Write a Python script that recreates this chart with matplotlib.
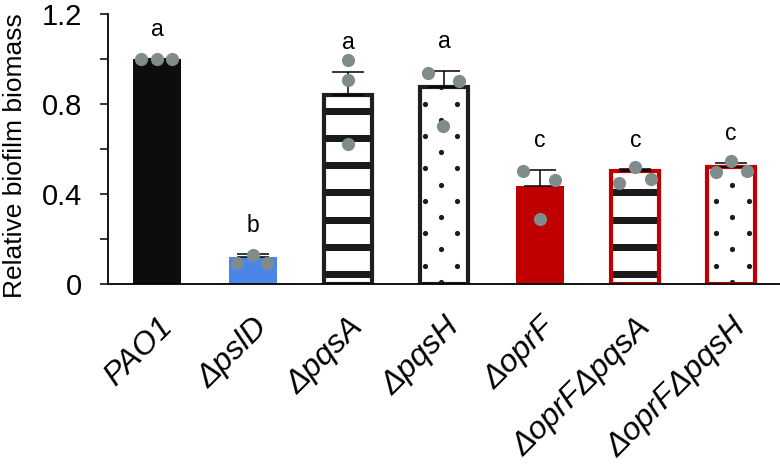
import numpy as np
import matplotlib
matplotlib.use("Agg")
import matplotlib.pyplot as plt
from matplotlib.transforms import ScaledTranslation
from matplotlib.collections import PatchCollection
from matplotlib.patches import Rectangle

plt.rcParams['font.family'] = ['Liberation Sans', 'DejaVu Sans']

# ---- data ----
strains = ["PAO1", "ΔpslD", "ΔpqsA", "ΔpqsH", "ΔoprF", "ΔoprFΔpqsA", "ΔoprFΔpqsH"]
means = [1.0, 0.121, 0.84, 0.874, 0.437, 0.502, 0.521]
errors = [0.0, 0.012, 0.104, 0.074, 0.070, 0.009, 0.018]
replicates = [
    [1.0, 1.0, 1.0],
    [0.095, 0.129, 0.095],
    [0.996, 0.907, 0.622],
    [0.936, 0.902, 0.702],
    [0.502, 0.462, 0.289],
    [0.450, 0.521, 0.467],
    [0.496, 0.547, 0.502],
]
letters = ["a", "b", "a", "a", "c", "c", "c"]
yticks = [0, 0.4, 0.8, 1.2]
ytick_labels = ["0", "0.4", "0.8", "1.2"]

# ---- styles ----
jitter = [
    [-0.17, 0.0, 0.16],
    [-0.16, 0.0, 0.15],
    [0.0, 0.0, 0.0],
    [-0.17, 0.16, -0.01],
    [-0.17, 0.16, 0.0],
    [-0.17, 0.0, 0.16],
    [-0.16, 0.0, 0.165],
]
face = ["#0d0d0d", "#4a86e8", "white", "white", "#c00000", "white", "white"]
edge = [None, None, "#1f1f1f", "#1f1f1f", None, "#c00000", "#c00000"]
pattern = [None, None, "stripes", "dots", None, "stripes", "dots"]

fig = plt.figure(figsize=(7.8, 4.7), dpi=100)
ax = fig.add_axes([108/780, 186/470, 672/780, 270/470])
x = np.arange(len(strains))
width = 0.5

bars = ax.bar(x, means, width=width, color=face, linewidth=0, zorder=1)

for i, b in enumerate(bars):
    if pattern[i] == "stripes":
        centers = np.arange(0.042, means[i] + 0.1, 0.121)
        rects = [Rectangle((x[i] - 0.4, c - 0.016), 0.8, 0.032) for c in centers]
        pc = PatchCollection(rects, facecolor="#1a1a1a", edgecolor="none", zorder=2)
        ax.add_collection(pc)
        pc.set_clip_path(b)
    elif pattern[i] == "dots":
        xs, ys = [], []
        for k in range(-40, 40):
            for j in range(0, 20):
                if (k + j) % 2 == 0:
                    xs.append(2.97 + k * 0.1691)
                    ys.append(0.0102 + j * 0.072)
        sc = ax.scatter(xs, ys, s=14, color="#1a1a1a", linewidths=0, zorder=2)
        sc.set_clip_path(b)

# outlines
for i in range(len(strains)):
    if edge[i] is not None:
        ax.bar(x[i], means[i], width=width, facecolor="none", edgecolor=edge[i],
               linewidth=3.0, zorder=3)

# error bars (upper only)
ax.errorbar(x, means, yerr=[np.zeros(len(x)), errors], fmt="none", ecolor="black",
            elinewidth=1.1, capsize=11.5, capthick=1.1, zorder=4)

# replicate points
for i in range(len(strains)):
    ax.scatter(x[i] + np.array(jitter[i]), replicates[i], s=90, color="#808b8b",
               linewidths=0, zorder=5, clip_on=False)

# significance letters
for i in range(len(strains)):
    ax.text(x[i], means[i] + errors[i] + 0.1, letters[i], ha="center", va="baseline",
            fontsize=16.5)

ax.set_xlim(-0.512, 6.512)
ax.set_ylim(0, 1.2)
ax.set_yticks(yticks)
ax.set_yticklabels(ytick_labels, fontsize=21)
ax.set_yticks([0.2, 0.6, 1.0], minor=True)
ax.tick_params(axis="y", which="both", length=5.8, width=1.1, pad=13, direction="out")
ax.set_ylabel("Relative biofilm biomass", fontsize=19)
ax.yaxis.set_label_coords(-0.12, 0.475)

ax.set_xticks(x)
ax.set_xticklabels(strains, rotation=45, ha="right", va="top", rotation_mode="anchor",
                   fontsize=23, style="italic")
ax.tick_params(axis="x", length=0, pad=0)
off = ScaledTranslation(0/100, -28/100, fig.dpi_scale_trans)
for lab in ax.get_xticklabels():
    lab.set_transform(lab.get_transform() + off)

for s in ["top", "right"]:
    ax.spines[s].set_visible(False)
ax.spines["left"].set_linewidth(1.3)
ax.spines["bottom"].set_linewidth(1.3)
ax.spines["bottom"].set_zorder(6)

fig.savefig("out.png", dpi=100)
